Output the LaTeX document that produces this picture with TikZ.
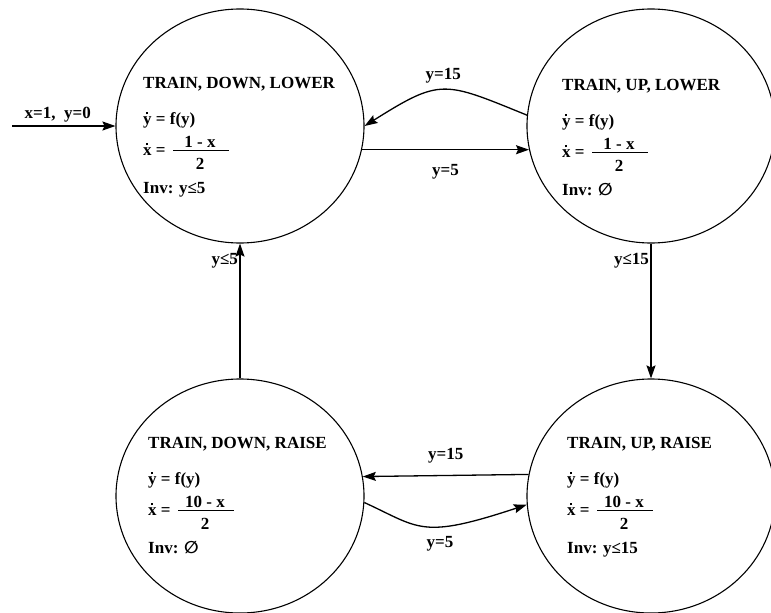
\documentclass[tikz,border=0pt]{standalone}
\usepackage{fontspec}
\setmainfont{Liberation Serif}
\newfontfamily\symbolfont{DejaVu Sans}
\usetikzlibrary{shapes.geometric,arrows.meta}

% a letter with a small square dot placed over it (time derivative)
\newcommand\overdot[1]{\leavevmode\setbox0\hbox{#1}%
  \rlap{\hbox to\wd0{\hss\raisebox{0.56em}{\rule{2pt}{2pt}}\hss}}\box0\relax}

% the four lines of text inside a state:
% #1 name prefix, #2 left x, #3 baseline y of the title,
% #4 title, #5 numerator of the x-rate, #6 invariant
\newcommand\stateinfo[6]{%
  \node[txt] (#1-title) at (#2,#3) {#4};
  \node[txt] (#1-ydot) at (#2,#3+36) {\overdot{y} = f(y)};
  \node[txt] (#1-xdot) at (#2,#3+67) {\overdot{x} =};
  \draw[fracbar] (#2+30,#3+62) -- (#2+86,#3+62);
  \node[txt, anchor=base] (#1-num) at (#2+57,#3+59) {#5};
  \node[txt, anchor=base] (#1-den) at (#2+57,#3+81) {2};
  \node[txt] (#1-inv) at (#2,#3+105) {Inv: #6};
}

\begin{document}
\begin{tikzpicture}[x=1pt,y=-1pt,
  state/.style={ellipse, draw, line width=1.1pt,
    minimum width=248pt, minimum height=234pt, inner sep=0pt},
  txt/.style={anchor=base west, inner sep=0pt,
    font=\fontsize{17}{20}\selectfont\bfseries},
  lbl/.style={inner sep=1.5pt, font=\fontsize{17}{20}\selectfont\bfseries},
  edge/.style={line width=1.3pt,
    -{Stealth[length=13pt,width=9pt,inset=2pt]}},
  fracbar/.style={line width=0.9pt}]
\fill[white] (0,0) rectangle (771,613);
\useasboundingbox (0,0) rectangle (771,613);

% states
\node[state] (tl) at (240,126) {};
\node[state] (tr) at (651,126) {};
\node[state] (bl) at (240,496) {};
\node[state] (br) at (651,496) {};

\stateinfo{tl}{143}{88}{TRAIN, DOWN, LOWER}{1 - x}{y≤5}
\stateinfo{tr}{562}{90}{TRAIN, UP, LOWER}{1 - x}{{\symbolfont ∅}}
\stateinfo{bl}{148}{448}{TRAIN, DOWN, RAISE}{10 - x}{{\symbolfont ∅}}
\stateinfo{br}{567}{448}{TRAIN, UP, RAISE}{10 - x}{y≤15}

% initial transition
\coordinate (init) at (12,126);
\draw[edge] (init) -- node[lbl, above=2pt, xshift=-6pt] (lab-init)
  {x=1,\hspace{0.5em}y=0} (tl.west);

% transitions
\draw[edge] (tl.-11.19) -- node[lbl, below=13pt] (lab-tltr) {y=5} (tr.191.19);
\draw[edge] (tr.175.8) .. controls (443.6,81.3) and (441.2,77.8) .. (tl.0)
  node[lbl, pos=0.5, above=4pt] (lab-trtl) {y=15};
\draw[edge] (tr.south) -- node[lbl, pos=0.13, left] (lab-trbr) {y≤15} (br.north);
\draw[edge] (br.170.23) -- node[lbl, above=10pt] (lab-brbl) {y=15} (bl.9.77);
\draw[edge] (bl.-3.3) .. controls (420.4,528.3) and (420.8,539.7) .. (br.184.2)
  node[lbl, pos=0.6, below=8pt] (lab-blbr) {y=5};
\draw[edge] (bl.north) -- node[lbl, pos=0.87, left] (lab-bltl) {y≤5} (tl.south);
\end{tikzpicture}
\end{document}
